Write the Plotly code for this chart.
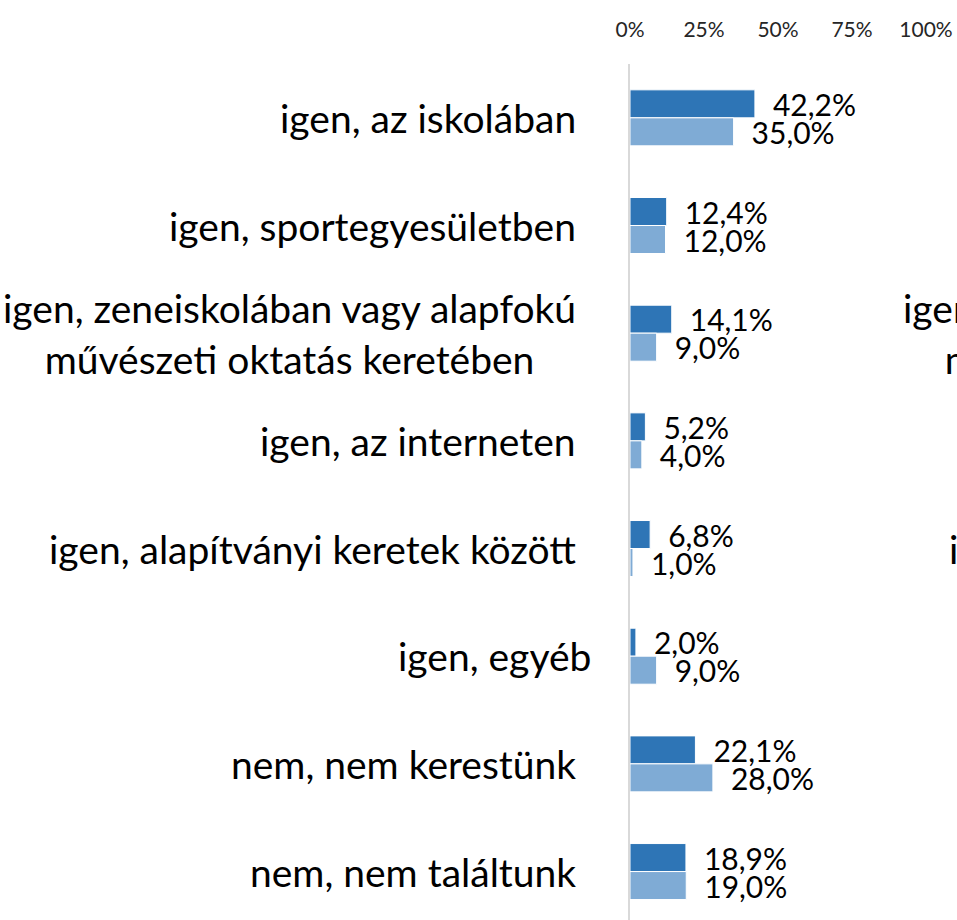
import plotly.graph_objects as go

categories = [
    "igen, az iskolában",
    "igen, sportegyesületben",
    "igen, zeneiskolában vagy alapfokú<br>művészeti oktatás keretében",
    "igen, az interneten",
    "igen, alapítványi keretek között",
    "igen, egyéb",
    "nem, nem kerestünk",
    "nem, nem találtunk",
]
series_a = [42.2, 12.4, 14.1, 5.2, 6.8, 2.0, 22.1, 18.9]
series_b = [35.0, 12.0, 9.0, 4.0, 1.0, 9.0, 28.0, 19.0]
tick_vals = [0, 25, 50, 75, 100]
tick_text = ["0%", "25%", "50%", "75%", "100%"]
# labels of the neighbouring panel that are partially visible at the right edge
right_panel_labels = [
    "igen, zeneiskolában vagy alapfokú<br>művészeti oktatás keretében",
    "igen, alapítványi keretek között",
]

FONT = "Lato"
W, H = 957, 920
x0, x1 = 630, 926
LABEL_RIGHT = 578
PANEL_OFFSET = 900

fig = go.Figure()
for vals, col in [(series_a, "#2E75B6"), (series_b, "#7FABD5")]:
    fig.add_trace(go.Bar(
        y=categories, x=vals, orientation="h",
        marker=dict(color=col, line=dict(color="white", width=1)),
        text=["\u2002" + f"{v:.1f}%".replace(".", ",") for v in vals],
        textposition="outside", constraintext="none", cliponaxis=False,
        textfont=dict(family=FONT, size=30, color="black"),
        hoverinfo="skip",
    ))

annotations = []
for c in categories:
    annotations.append(dict(
        x=(LABEL_RIGHT + (15 if c == "igen, egyéb" else 0)) / W, xref="paper",
        y=c, yref="y", xanchor="right", yanchor="middle", align="center",
        text=c, showarrow=False,
        font=dict(family=FONT, size=39, color="black"),
    ))
for c in right_panel_labels:
    annotations.append(dict(
        x=(LABEL_RIGHT + PANEL_OFFSET) / W, xref="paper", y=c, yref="y",
        xanchor="right", yanchor="middle", align="center", text=c,
        showarrow=False, font=dict(family=FONT, size=39, color="black"),
    ))

fig.update_layout(
    width=W, height=H,
    margin=dict(l=0, r=0, t=0, b=0, autoexpand=False),
    paper_bgcolor="white", plot_bgcolor="white",
    barmode="group", bargap=0.48, bargroupgap=0,
    showlegend=False, separators=", ",
    annotations=annotations,
    xaxis=dict(domain=[x0 / W, x1 / W], range=[0, 100], side="top",
               tickvals=tick_vals, ticktext=tick_text, showgrid=False,
               zeroline=False, showline=False, ticks="", automargin=False,
               ticklabelstandoff=22,
               tickfont=dict(family=FONT, size=21, color="#262626")),
    yaxis=dict(domain=[0, 1 - 64 / H], range=[7.45, -0.5], automargin=False,
               showticklabels=False, showgrid=False, zeroline=False,
               showline=True, linecolor="#D9D9D9", linewidth=2, ticks=""),
)
fig.write_html(
    "out.html",
    config={"displayModeBar": False},
    post_script="document.body.style.margin='0';"
                "document.body.style.overflow='hidden';",
)
